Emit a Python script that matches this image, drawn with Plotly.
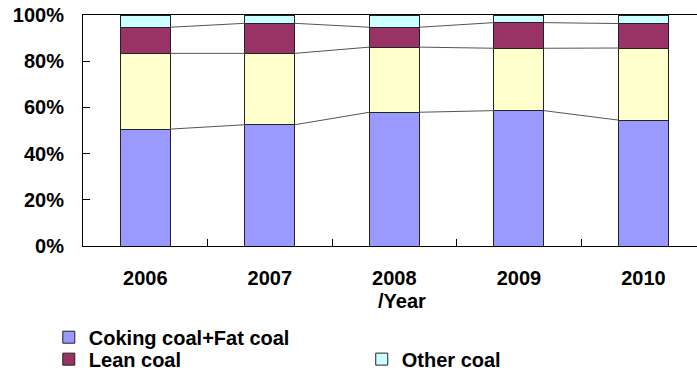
import plotly.graph_objects as go

years = ["2006", "2007", "2008", "2009", "2010"]
coking_fat = [50.6, 52.5, 57.9, 58.6, 54.5]
gas_coal = [32.8, 30.9, 28.2, 27.0, 31.2]
lean = [11.3, 13.0, 8.6, 11.1, 10.6]
other = [5.3, 3.6, 5.3, 3.3, 3.7]

y_ticks = [0, 20, 40, 60, 80, 100]
y_labels = ["0%", "20%", "40%", "60%", "80%", "100%"]
FONT = "Liberation Sans, Arial, sans-serif"
BAR_W = 0.4

series = [
    ("Coking coal+Fat coal", coking_fat, "#9999FF", "legend", True),
    ("Gas coal", gas_coal, "#FFFFCC", "legend", False),
    ("Lean coal", lean, "#993366", "legend3", True),
    ("Other coal", other, "#CCFFFF", "legend2", True),
]

xs = list(range(len(years)))
fig = go.Figure()

for name, vals, color, leg, show in series:
    fig.add_trace(go.Bar(
        x=xs, y=vals, name=name, width=BAR_W,
        marker=dict(color=color, line=dict(color="#222222", width=1)),
        legend=leg, showlegend=show,
    ))

# series lines joining the stacked boundaries of neighbouring bars
cum = [0.0] * len(years)
for name, vals, color, leg, show in series[:-1]:
    cum = [c + v for c, v in zip(cum, vals)]
    for i in range(len(years) - 1):
        fig.add_trace(go.Scatter(
            x=[xs[i] + BAR_W / 2, xs[i + 1] - BAR_W / 2],
            y=[cum[i], cum[i + 1]],
            mode="lines", line=dict(color="#555555", width=1),
            showlegend=False, hoverinfo="skip",
        ))

# invisible trace on the overlay axis so the boundary ticks get drawn
fig.add_trace(go.Scatter(x=[0], y=[0], xaxis="x2", mode="markers",
                         marker=dict(opacity=0), showlegend=False,
                         hoverinfo="skip"))

bold20 = dict(family=FONT, size=20, color="#000000", weight="bold")


def legend_box(x, y):
    return dict(
        xref="container", yref="container",
        x=x, y=y, xanchor="left", yanchor="top",
        orientation="v", bgcolor="rgba(0,0,0,0)",
        font=bold20, itemclick=False,
    )


fig.update_layout(
    barmode="stack",
    width=697, height=372,
    margin=dict(l=83, r=0, t=15, b=126, autoexpand=False),
    paper_bgcolor="white", plot_bgcolor="white",
    font=dict(family=FONT, size=20, color="#000000"),
    xaxis=dict(
        range=[-0.5, 4.43], tickvals=xs, ticktext=years,
        ticks="", showgrid=False, zeroline=False, automargin=False,
        showline=True, linecolor="#000000", linewidth=1, mirror=True,
        tickfont=bold20, ticklabelstandoff=14,
    ),
    xaxis2=dict(
        overlaying="x", range=[-0.5, 4.43],
        tickvals=[0.5, 1.5, 2.5, 3.5], showticklabels=False,
        ticks="inside", ticklen=7, tickcolor="#000000", tickwidth=1,
        showgrid=False, zeroline=False, showline=False, side="bottom",
        automargin=False,
    ),
    yaxis=dict(
        range=[0, 100], tickvals=y_ticks, ticktext=y_labels,
        ticks="inside", ticklen=7, tickcolor="#000000",
        showgrid=False, zeroline=False, automargin=False,
        showline=True, linecolor="#000000", linewidth=1,
        tickfont=bold20, ticklabelstandoff=14,
    ),
    legend=legend_box(0.07, 0.146),
    legend3=legend_box(0.07, 0.087),
    legend2=legend_box(0.519, 0.087),
    annotations=[dict(
        text="/Year", xref="paper", yref="paper",
        x=0.5195, y=-0.238, xanchor="center", yanchor="middle",
        showarrow=False, font=bold20,
    )],
)

fig.write_html("out.html")
